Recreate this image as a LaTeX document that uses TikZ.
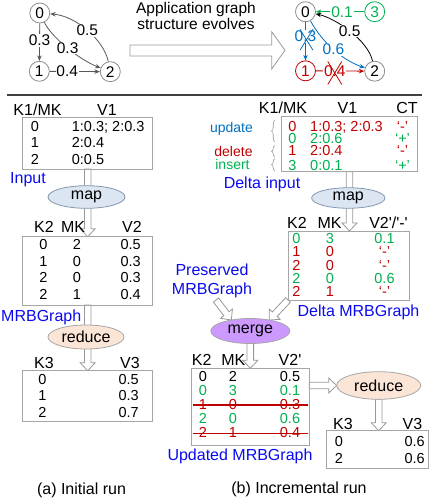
\documentclass[tikz,border=0pt]{standalone}
\usepackage{fontspec}
\setmainfont{Liberation Sans}
\usetikzlibrary{calc,shapes.geometric,arrows.meta,decorations.pathreplacing,backgrounds}

\definecolor{cblue}{HTML}{0070C0}
\definecolor{cred}{HTML}{C00000}
\definecolor{cgreen}{HTML}{00B050}
\definecolor{lblue}{HTML}{0A0AEE}
\definecolor{mapfill}{HTML}{DCE6F2}
\definecolor{mapdraw}{HTML}{8497B0}
\definecolor{redfill}{HTML}{FBE5D6}
\definecolor{mergefill}{HTML}{CC99FF}
\definecolor{boxgray}{HTML}{A6A6A6}
\definecolor{arrgray}{HTML}{999999}
\definecolor{edgegray}{HTML}{595959}
\definecolor{nodegray}{HTML}{8C8C8C}
\definecolor{rulegray}{HTML}{404040}

\newcommand{\tabfont}{\fontsize{14.5}{16}\selectfont}
\newcommand{\hdrfont}{\fontsize{16}{18}\selectfont}
\newcommand{\smlfont}{\fontsize{14}{16}\selectfont}
\newcommand{\grfont}{\fontsize{15.5}{17}\selectfont}

\newcommand{\hollowarrow}[2]{%
  \coordinate (hwB) at ($(#2)!8pt!(#1)$);
  \draw[hollow] ($(#1)!3.3pt!90:(#2)$) -- ($(hwB)!3.3pt!90:(#2)$) -- ($(hwB)!7.5pt!90:(#2)$) -- (#2) -- ($(hwB)!7.5pt!-90:(#2)$) -- ($(hwB)!3.3pt!-90:(#2)$) -- ($(#1)!3.3pt!-90:(#2)$) -- cycle;}

\tikzset{
  hollow/.style={draw=arrgray, fill=white, line width=0.8pt, line join=miter},
  box/.style={rectangle, draw=boxgray, line width=0.8pt, inner sep=0pt, outer sep=0pt},
  cell/.style={inner sep=0pt, font=\tabfont},
  hdr/.style={inner sep=0pt, font=\hdrfont, anchor=base},
  blbl/.style={inner sep=0pt, font=\hdrfont, text=lblue},
  ell/.style={ellipse, inner sep=0pt, outer sep=0pt, line width=0.8pt, font=\hdrfont},
  gnode/.style={circle, draw=nodegray, line width=0.8pt, minimum size=20pt, inner sep=0pt, font=\grfont},
  gedge/.style={draw=edgegray, line width=0.8pt, -{Stealth[length=5.5pt,width=4.5pt]}},
  elabel/.style={fill=white, inner sep=0.8pt, font=\grfont},
  brc/.style={draw=arrgray, line width=0.6pt, decorate, decoration={brace, amplitude=3.5pt}},
  strike/.style={draw=cred, line width=1.2pt}
}

\begin{document}
\begin{tikzpicture}[x=1pt,y=-1pt]
\useasboundingbox (0,0) rectangle (429,498);

% ---------- top-left graph ----------
\node[gnode] (g0) at (39.8,13) {0};
\node[gnode] (g1) at (39.3,71.3) {1};
\node[gnode] (g2) at (110.3,71.7) {2};
\draw[gedge] (g0) -- (g1) node[elabel,pos=0.46] (g01) {0.3};
\draw[gedge] (g1) -- (g2) node[elabel,pos=0.35] (g12) {0.4};
\draw[gedge] (g0) .. controls (52,38) and (80,60) .. (g2) node[elabel,pos=0.5] (g02) {0.3};
\draw[gedge] (g2) .. controls (104,40) and (76,16) .. (g0) node[elabel,pos=0.5] (g20) {0.5};

% ---------- title and big arrow ----------
\node[inner sep=0pt, font=\grfont, anchor=base] (t1) at (196,13.5) {Application graph};
\node[inner sep=0pt, font=\grfont, anchor=base] (t2) at (196,29.3) {structure evolves};
\draw[hollow] (130,45) -- (271.7,45) -- (271.7,31.7) -- (285,50.3) -- (271.7,68.9) -- (271.7,56) -- (130,56) -- cycle;

% ---------- top-right graph ----------
\node[gnode] (h0) at (305.5,11.7) {0};
\node[gnode, draw=cgreen, text=cgreen] (h3) at (374.7,11.7) {3};
\node[gnode, draw=cred, text=cred] (h1) at (305.5,70.8) {1};
\node[gnode] (h2) at (374.7,71.2) {2};
\draw[gedge, draw=cgreen, -{Stealth[length=5.5pt,width=4.5pt,color=cgreen]}] (h3) -- (h0) node[elabel,text=cgreen,pos=0.46] (h30) {0.1};
\draw[gedge, draw=cblue] (h0) -- (h1) node[elabel,text=cblue,pos=0.37] (h01) {0.3};
\draw[draw=cblue, line width=0.8pt] ($(h01.center)+(-5.5,-7)$) -- ($(h01.center)+(7.5,14)$);
\draw[draw=cblue, line width=0.8pt] ($(h01.center)+(7.5,-7)$) -- ($(h01.center)+(-5.5,14)$);
\draw[gedge, draw=cblue] (h0) .. controls (322,42) and (342,60) .. (h2) node[elabel,text=cblue,pos=0.5] (h02) {0.6};
\draw[gedge, draw=cred] (h1) -- (h2) node[elabel,text=cred,pos=0.39] (h12) {0.4};
\draw[draw=cred, line width=0.8pt] ($(h12.center)+(-7,-9.5)$) -- ($(h12.center)+(7,13.5)$);
\draw[draw=cred, line width=0.8pt] ($(h12.center)+(7,-9.5)$) -- ($(h12.center)+(-7,13.5)$);
\draw[gedge, draw=black] (h2) .. controls (368,40) and (335,18) .. (h0) node[elabel,pos=0.5] (h20) {0.5};

% ---------- rule ----------
\draw[line width=2pt, draw=rulegray] (7,94.5) -- (422,94.5);

% ---------- (a) initial run ----------
\node[hdr] (ah1) at (37.5,115) {K1/MK};
\node[hdr] (ah2) at (107,115) {V1};
\node[box, minimum width=130pt, minimum height=51.3pt] (b1) at (87.7,143.35) {};
\foreach \yy/\a/\b [count=\i] in {131.5/0/{1:0.3; 2:0.3}, 147.5/1/{2:0.4}, 164/2/{0:0.5}} {
  \node[cell, anchor=base] (ia\i) at (35,\yy) {\a};
  \node[cell, anchor=base west] (ib\i) at (71.7,\yy) {\b};
}
\node[blbl, anchor=base west] (inp) at (10,183.3) {Input};
\node[ell, draw=mapdraw, fill=mapfill, minimum width=77pt, minimum height=22.6pt] (map1) at (86.5,197) {map};

\node[hdr] (bh1) at (44,232) {K2};
\node[hdr] (bh2) at (73,232) {MK};
\node[hdr] (bh3) at (132,232) {V2};
\node[box, minimum width=130pt, minimum height=68.3pt] (b2) at (87.7,270.85) {};
\foreach \yy/\a/\b/\c [count=\i] in {249.5/0/2/0.5, 266/1/0/0.3, 282.5/2/0/0.3, 299/2/1/0.4} {
  \node[cell, anchor=base] (ma\i) at (43.5,\yy) {\a};
  \node[cell, anchor=base] (mb\i) at (77,\yy) {\b};
  \node[cell, anchor=base east] (mc\i) at (141,\yy) {\c};
}
\node[blbl, anchor=base west] (mrb) at (1,321) {MRBGraph};
\node[ell, draw=boxgray, fill=redfill, minimum width=76pt, minimum height=24pt] (red1) at (86,337) {reduce};

\node[hdr] (ch1) at (44,368) {K3};
\node[hdr] (ch2) at (130,368) {V3};
\node[box, minimum width=130pt, minimum height=51pt] (b3) at (87.7,396.2) {};
\foreach \yy/\a/\b [count=\i] in {384/0/0.5, 400.5/1/0.3, 417/2/0.7} {
  \node[cell, anchor=base] (ra\i) at (42.5,\yy) {\a};
  \node[cell, anchor=base east] (rb\i) at (139,\yy) {\b};
}
\node[inner sep=0pt, font=\hdrfont, anchor=base] (capa) at (81.5,494) {(a) Initial run};

% ---------- (b) incremental run ----------
\node[hdr] (dh1) at (283,113.3) {K1/MK};
\node[hdr] (dh2) at (347.5,113.3) {V1};
\node[hdr] (dh3) at (407,113.3) {CT};
\node[box, minimum width=135.6pt, minimum height=55pt] (dib) at (349.5,144.2) {};
\foreach \yy/\c/\a/\b/\d [count=\i] in {131/cred/0/{1:0.3; 2:0.3}/‘-’, 143.5/cgreen/0/{2:0.6}/‘+’, 155.7/cred/1/{2:0.4}/‘-’, 170/cgreen/3/{0:0.1}/‘+’} {
  \node[cell, text=\c, anchor=base] (da\i) at (292.5,\yy) {\a};
  \node[cell, text=\c, anchor=base west] (db\i) at (310,\yy) {\b};
  \node[cell, text=\c, anchor=base] (dc\i) at (402.5,\yy) {\d};
}
\draw[brc] (275,142) -- (275,120);
\draw[brc] (275,157) -- (275,145.5);
\draw[brc] (275,171) -- (275,158.5);
\node[inner sep=0pt, font=\smlfont, text=cblue, anchor=base] (upd) at (231.5,132.3) {update};
\node[inner sep=0pt, font=\smlfont, text=cred, anchor=base] (del) at (233.5,156) {delete};
\node[inner sep=0pt, font=\smlfont, text=cgreen, anchor=base] (ins) at (232.5,169) {insert};
\node[blbl, anchor=base] (dinp) at (262,188.3) {Delta input};
\node[ell, draw=mapdraw, fill=mapfill, minimum width=73.3pt, minimum height=20.5pt] (map2) at (348.3,198) {map};

\node[hdr] (eh1) at (297,228.3) {K2};
\node[hdr] (eh2) at (329.5,228.3) {MK};
\node[hdr] (eh3) at (388.5,228.3) {V2\textquotesingle/\textquotesingle-\textquotesingle};
\node[box, minimum width=121pt, minimum height=69pt] (dmb) at (348.5,265.5) {};
\foreach \yy/\c/\a/\b/\d [count=\i] in {243.5/cgreen/0/3/0.1, 256.5/cred/1/0/‘-’, 270/cred/2/0/‘-’, 283/cgreen/2/0/0.6, 296.5/cred/2/1/‘-’} {
  \node[cell, text=\c, anchor=base] (ea\i) at (296.5,\yy) {\a};
  \node[cell, text=\c, anchor=base] (eb\i) at (330,\yy) {\b};
  \node[cell, text=\c, anchor=base] (ec\i) at (384.5,\yy) {\d};
}
\node[blbl, anchor=base] (dmrb) at (358.5,316.7) {Delta MRBGraph};
\node[blbl, anchor=base] (pres1) at (212,275.7) {Preserved};
\node[blbl, anchor=base] (pres2) at (212,294.3) {MRBGraph};
\node[ell, draw=boxgray, fill=mergefill, minimum width=79pt, minimum height=25pt] (merge) at (250.3,331) {merge};

\node[hdr] (fh1) at (201.7,365) {K2};
\node[hdr] (fh2) at (233.3,365) {MK};
\node[hdr] (fh3) at (290,365) {V2\textquotesingle};
\node[box, minimum width=117.6pt, minimum height=76.7pt] (ub) at (250.5,406.65) {};
\foreach \yy/\c/\a/\b/\d [count=\i] in {381.7/black/0/2/0.5, 395/cgreen/0/3/0.1, 409/cred/1/0/0.3, 423.3/cgreen/2/0/0.6, 437.3/cred/2/1/0.4} {
  \node[cell, text=\c, anchor=base] (ua\i) at (203,\yy) {\a};
  \node[cell, text=\c, anchor=base] (ub\i) at (233,\yy) {\b};
  \node[cell, text=\c, anchor=base] (uc\i) at (290,\yy) {\d};
}
\draw[strike] ($(ub.west |- ua3.center)+(1,1)$) -- ($(ub.east |- ua3.center)+(-1,1)$);
\draw[strike] ($(ub.west |- ua5.center)+(1,1)$) -- ($(ub.east |- ua5.center)+(-1,1)$);
\node[blbl, anchor=base] (umrb) at (240,460.7) {Updated MRBGraph};

\node[ell, draw=boxgray, fill=redfill, minimum width=84pt, minimum height=27.6pt] (red2) at (378.7,385.5) {reduce};
\node[hdr] (kh1) at (343,429.3) {K3};
\node[hdr] (kh2) at (412.5,429.3) {V3};
\node[box, minimum width=101.6pt, minimum height=37.6pt] (fb) at (377.5,449.5) {};
\foreach \yy/\a/\b [count=\i] in {446/0/0.6, 463.3/2/0.6} {
  \node[cell, anchor=base] (ka\i) at (339,\yy) {\a};
  \node[cell, anchor=base east] (kb\i) at (425,\yy) {\b};
}
\node[inner sep=0pt, font=\hdrfont, anchor=base] (capb) at (299,493.5) {(b) Incremental run};

% ---------- hollow arrows ----------
\coordinate (T3) at (dib.south |- dmb.north);
\coordinate (presS) at (216,300);
\coordinate (T6) at (merge.south |- ub.north);
\coordinate (S7) at (ub.east |- red2.west);
\coordinate (T8) at (red2.south |- fb.north);
\begin{scope}[on background layer]
  \hollowarrow{b1.south}{b2.north}
  \hollowarrow{b2.south}{b3.north}
  \hollowarrow{dib.south}{T3}
  \hollowarrow{presS}{merge.150}
  \hollowarrow{dmb.south west}{merge.30}
  \hollowarrow{merge.south}{T6}
  \hollowarrow{S7}{red2.west}
  \hollowarrow{red2.south}{T8}
\end{scope}
\end{tikzpicture}
\end{document}
